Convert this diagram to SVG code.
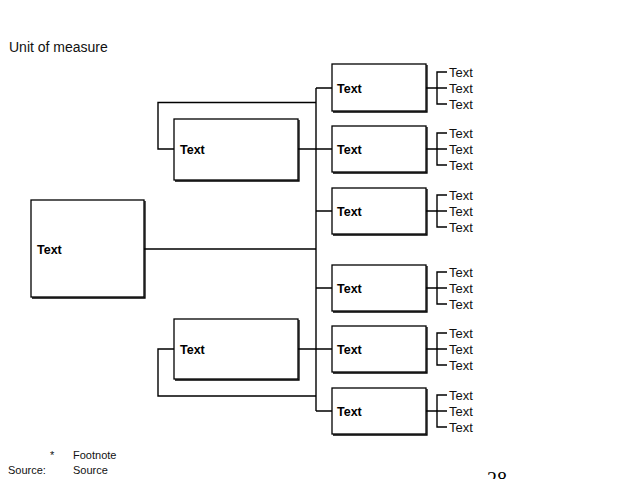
<svg xmlns="http://www.w3.org/2000/svg" width="638" height="479" viewBox="0 0 638 479">
<style>
.box{fill:#fff;stroke:#000;stroke-width:1.3}
.sh{fill:none;stroke:#000;stroke-width:1.3}
.ln{fill:none;stroke:#000;stroke-width:1.4}
.bl{font-family:"Liberation Sans",Arial,sans-serif;font-size:12.5px;font-weight:bold;fill:#000}
.t{font-family:"Liberation Sans",Arial,sans-serif;font-size:13px;fill:#111}
.s{font-family:"Liberation Sans",Arial,sans-serif;font-size:11px;fill:#111}
</style>
<rect width="638" height="479" fill="#fff"/>
<text class="t" x="9" y="52" style="font-size:14px">Unit of measure</text>
<g id="connectors">
<path class="ln" d="M144,249 H316 M316,88 V411"/>
<path class="ln" d="M174,149 H158 V102.5 H316"/>
<path class="ln" d="M174,349 H158 V396 H316"/>
<path class="ln" d="M298,149 H332 M298,349 H332"/>
<path class="ln" d="M316,88 H332 M316,211 H332 M316,288 H332 M316,411 H332"/>
<path class="ln" d="M426,88 H437 M447,72 H437 V104 H447 M437,88 H447"/>
<path class="ln" d="M426,149 H437 M447,133 H437 V165 H447 M437,149 H447"/>
<path class="ln" d="M426,211 H437 M447,195 H437 V227 H447 M437,211 H447"/>
<path class="ln" d="M426,288 H437 M447,272 H437 V304 H447 M437,288 H447"/>
<path class="ln" d="M426,349 H437 M447,333 H437 V365 H447 M437,349 H447"/>
<path class="ln" d="M426,411 H437 M447,395 H437 V427 H447 M437,411 H447"/>
</g>
<g id="root"><rect class="box" x="31" y="200" width="113" height="97"/><path class="sh" d="M145,201 V298 H32"/><text class="bl" x="37" y="254">Text</text></g>
<g id="mid1"><rect class="box" x="174" y="119" width="124" height="61"/><path class="sh" d="M299,120 V181 H175"/><text class="bl" x="180" y="154">Text</text></g>
<g id="mid2"><rect class="box" x="174" y="319" width="124" height="60"/><path class="sh" d="M299,320 V380 H175"/><text class="bl" x="180" y="354">Text</text></g>
<g id="r1"><rect class="box" x="332" y="64" width="94" height="47"/><path class="sh" d="M427,65 V112 H333"/><text class="bl" x="337" y="93">Text</text>
<text class="t" x="449" y="77">Text</text><text class="t" x="449" y="93">Text</text><text class="t" x="449" y="109">Text</text></g>
<g id="r2"><rect class="box" x="332" y="126" width="94" height="46"/><path class="sh" d="M427,127 V173 H333"/><text class="bl" x="337" y="154">Text</text>
<text class="t" x="449" y="138">Text</text><text class="t" x="449" y="154">Text</text><text class="t" x="449" y="170">Text</text></g>
<g id="r3"><rect class="box" x="332" y="188" width="94" height="46"/><path class="sh" d="M427,189 V235 H333"/><text class="bl" x="337" y="216">Text</text>
<text class="t" x="449" y="200">Text</text><text class="t" x="449" y="216">Text</text><text class="t" x="449" y="232">Text</text></g>
<g id="r4"><rect class="box" x="332" y="265" width="94" height="46"/><path class="sh" d="M427,266 V312 H333"/><text class="bl" x="337" y="293">Text</text>
<text class="t" x="449" y="277">Text</text><text class="t" x="449" y="293">Text</text><text class="t" x="449" y="309">Text</text></g>
<g id="r5"><rect class="box" x="332" y="326" width="94" height="46"/><path class="sh" d="M427,327 V373 H333"/><text class="bl" x="337" y="354">Text</text>
<text class="t" x="449" y="338">Text</text><text class="t" x="449" y="354">Text</text><text class="t" x="449" y="370">Text</text></g>
<g id="r6"><rect class="box" x="332" y="388" width="94" height="46"/><path class="sh" d="M427,389 V435 H333"/><text class="bl" x="337" y="416">Text</text>
<text class="t" x="449" y="400">Text</text><text class="t" x="449" y="416">Text</text><text class="t" x="449" y="432">Text</text></g>
<text class="s" x="50" y="459">*</text>
<text class="s" x="73" y="459">Footnote</text>
<text class="s" x="8" y="474">Source:</text>
<text class="s" x="73" y="474">Source</text>
<text x="487" y="486" style="font-family:'Liberation Serif','Times New Roman',serif;font-size:20px;fill:#000">28</text>
</svg>
